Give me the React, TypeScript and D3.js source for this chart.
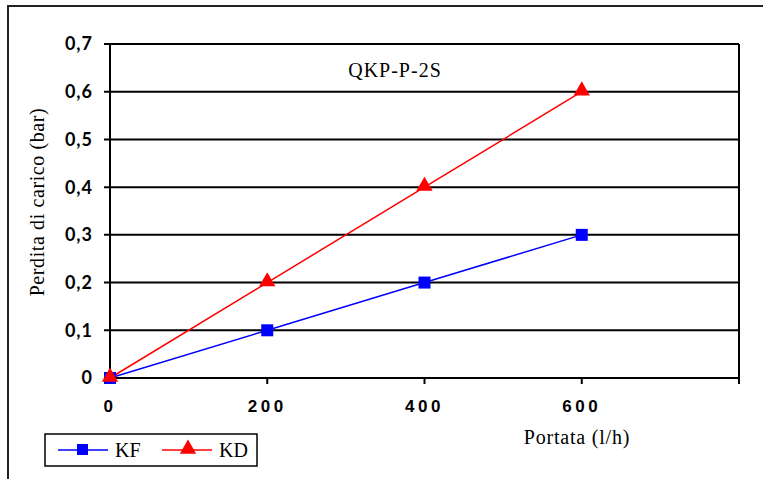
import React from "react";
import * as d3 from "d3";

const flows = [0, 200, 400, 600];
const kfValues = [0, 0.1, 0.2, 0.3];
const kdValues = [0, 0.2, 0.4, 0.6];
const yTicks = [0, 0.1, 0.2, 0.3, 0.4, 0.5, 0.6, 0.7];
const xTicks = [0, 200, 400, 600, 800];
const xTickLabels = ["0", "200", "400", "600", ""];
const seriesNames = ["KF", "KD"];
const title = "QKP-P-2S";
const xTitle = "Portata (l/h)";
const yTitle = "Perdita di carico (bar)";

export default function App() {
  const W = 763, H = 479;
  const left = 110, right = 739, top = 44, bottom = 378;
  const x = d3.scaleLinear().domain([0, 800]).range([left, right]);
  const y = d3.scaleLinear().domain([0, 0.7]).range([bottom, top]);
  const line = d3.line<[number, number]>().x(d => x(d[0])).y(d => y(d[1]));
  const kf = flows.map((f, i) => [f, kfValues[i]] as [number, number]);
  const kd = flows.map((f, i) => [f, kdValues[i]] as [number, number]);
  const tri = d3.symbol().type(d3.symbolTriangle).size(80)() as string;
  const serif = "'Liberation Serif', 'Times New Roman', serif";

  return (
    <svg width={W} height={H} style={{ position: "absolute", left: 0, top: 0, background: "#fff" }}>
      <rect x={8} y={6} width={W + 20} height={H + 20} fill="#fff" stroke="#222" strokeWidth={2} />
      {yTicks.map(t => (
        <g key={"y" + t}>
          <line x1={left - 6} x2={right} y1={y(t)} y2={y(t)} stroke="#000" strokeWidth={2} />
          <text x={93} y={y(t)} dy="0.36em" textAnchor="end" fontFamily="Lato, 'Open Sans', sans-serif" fontWeight="bold" fontSize={18} letterSpacing={1} fill="#000">
            {String(t).replace(".", ",")}
          </text>
        </g>
      ))}
      <line x1={left} x2={left} y1={top} y2={bottom} stroke="#000" strokeWidth={2} />
      <line x1={right} x2={right} y1={top} y2={bottom + 6} stroke="#000" strokeWidth={2} />
      {xTicks.map((t, i) => (
        <g key={"x" + t}>
          <line x1={x(t)} x2={x(t)} y1={bottom} y2={bottom + 6} stroke="#000" strokeWidth={2} />
          <text x={x(t)} y={412} textAnchor="middle" fontFamily="'Liberation Sans', Arial, sans-serif" fontWeight="bold" fontSize={17} letterSpacing={3.5} fill="#000">
            {xTickLabels[i]}
          </text>
        </g>
      ))}
      <path d={line(kf) as string} fill="none" stroke="#0000FF" strokeWidth={1.5} />
      <path d={line(kd) as string} fill="none" stroke="#FF0000" strokeWidth={1.5} />
      {kf.map((d, i) => (
        <rect key={"kf" + i} x={x(d[0]) - 6} y={y(d[1]) - 6} width={12} height={12} fill="#0000FF" />
      ))}
      {kd.map((d, i) => (
        <path key={"kd" + i} d={tri} transform={`translate(${x(d[0])},${y(d[1]) - 1}) scale(1.2)`} fill="#FF0000" />
      ))}
      <text x={395} y={77} textAnchor="middle" fontFamily={serif} fontSize={20} letterSpacing={1} fill="#000">{title}</text>
      <text x={577} y={444} textAnchor="middle" fontFamily={serif} fontSize={20} letterSpacing={0.8} fill="#000">{xTitle}</text>
      <text transform="translate(44,202) rotate(-90)" textAnchor="middle" fontFamily={serif} fontSize={20} letterSpacing={0.6} fill="#000">{yTitle}</text>
      <rect x={45} y={434} width={212} height={32} fill="#fff" stroke="#000" strokeWidth={1.5} />
      <line x1={58} x2={108} y1={450} y2={450} stroke="#0000FF" strokeWidth={1.5} />
      <rect x={77} y={444} width={11} height={11} fill="#0000FF" />
      <text x={115} y={457} fontFamily={serif} fontSize={20} fill="#000">{seriesNames[0]}</text>
      <line x1={162} x2={212} y1={450} y2={450} stroke="#FF0000" strokeWidth={1.5} />
      <path d={tri} transform="translate(188,449) scale(1.2)" fill="#FF0000" />
      <text x={219} y={457} fontFamily={serif} fontSize={20} fill="#000">{seriesNames[1]}</text>
    </svg>
  );
}
